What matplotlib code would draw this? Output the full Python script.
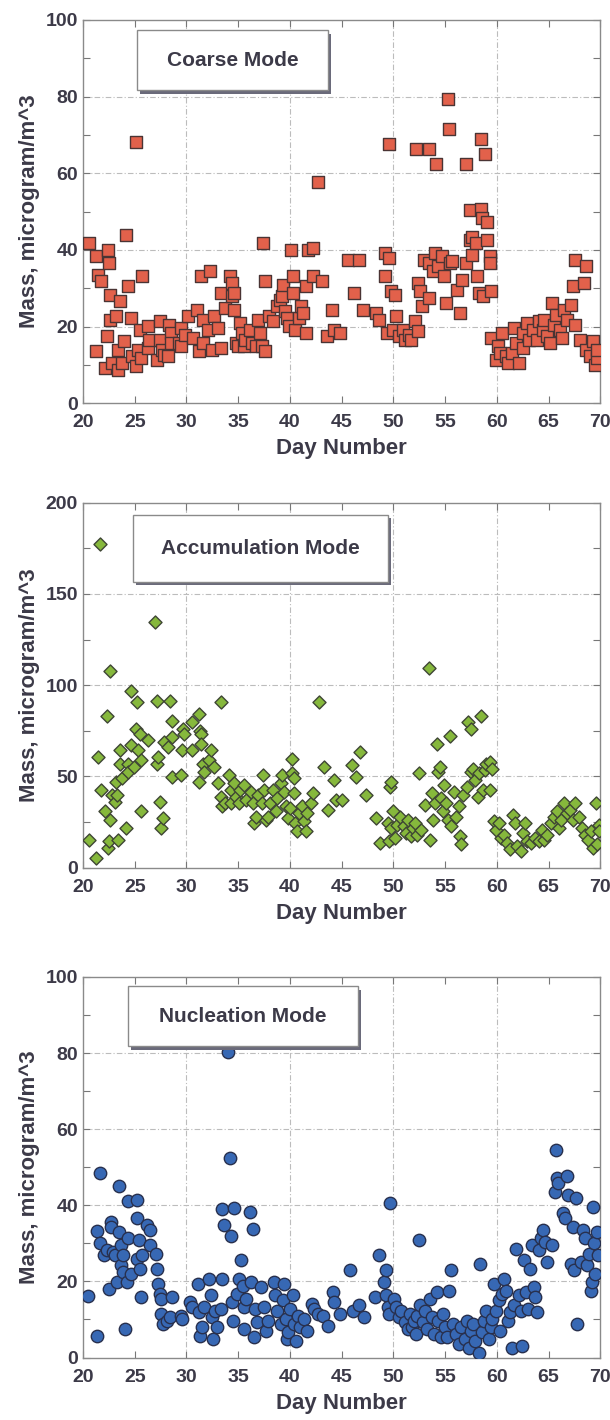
import numpy as np
import matplotlib
matplotlib.use('Agg')
import matplotlib.pyplot as plt
from matplotlib.patches import Rectangle

plt.rcParams['font.family'] = ['Liberation Sans', 'DejaVu Sans']
plt.rcParams['font.weight'] = 'bold'

TEXT = '#3c3a48'

# --- Coarse mode (day, mass) ---
coarse_day = [20.6, 21.3, 21.5, 21.7, 21.3, 22.1, 22.3, 22.4, 22.5, 22.6, 22.6, 22.8, 23.2, 23.4, 23.4,
              23.6, 23.8, 24.0, 24.2, 24.4, 24.6, 24.7, 25.1, 25.1, 25.3, 25.5, 25.6, 25.7, 26.3, 26.3,
              26.4, 27.2, 27.4, 27.4, 27.6, 27.8, 28.2, 28.3, 28.5, 28.5, 29.3, 29.5, 29.5, 29.9, 30.2,
              30.6, 31.0, 31.2, 31.4, 31.6, 31.6, 32.1, 32.3, 32.5, 32.7, 33.1, 33.3, 33.3, 33.7, 34.2,
              34.4, 34.4, 34.6, 34.6, 34.8, 35.0, 35.2, 35.4, 35.6, 35.7, 36.1, 36.3, 36.7, 36.9, 37.1,
              37.3, 37.4, 37.6, 37.6, 38.0, 38.4, 38.8, 39.0, 39.2, 39.3, 39.5, 39.7, 39.9, 40.1, 40.3,
              40.3, 40.5, 40.9, 41.1, 41.3, 41.6, 41.6, 41.8, 42.2, 42.2, 42.7, 43.1, 43.6, 44.1, 44.3,
              44.8, 45.6, 46.2, 46.7, 47.1, 48.3, 48.6, 49.2, 49.2, 49.4, 49.6, 49.6, 49.8, 50.0, 50.2,
              50.3, 50.5, 50.9, 51.1, 51.5, 51.7, 52.1, 52.2, 52.4, 52.4, 52.6, 52.8, 53.0, 53.4, 53.4,
              53.4, 53.8, 54.0, 54.1, 54.3, 54.7, 54.9, 55.1, 55.3, 55.4, 55.5, 55.7, 56.2, 56.4, 56.6,
              57.0, 57.0, 57.4, 57.4, 57.6, 57.6, 58.0, 58.1, 58.3, 58.5, 58.5, 58.6, 58.7, 58.9, 59.1,
              59.1, 59.3, 59.3, 59.4, 59.4, 59.9, 60.1, 60.3, 60.5, 60.9, 61.1, 61.5, 61.7, 61.9, 62.1,
              62.5, 62.5, 62.9, 63.1, 63.5, 63.9, 64.1, 64.5, 64.6, 64.9, 65.1, 65.3, 65.5, 65.7, 66.1,
              66.3, 66.5, 66.8, 67.2, 67.4, 67.6, 67.6, 68.0, 68.4, 68.6, 68.6, 69.0, 69.3, 69.5, 69.7,
              69.7]
coarse_mass = [41.7, 38.3, 33.5, 31.8, 13.6, 9.3, 17.5, 40.0, 36.5, 28.3, 21.8, 10.6, 22.7, 14.0, 8.8,
               26.6, 10.6, 16.2, 43.9, 30.5, 22.3, 12.3, 68.1, 9.7, 14.0, 19.2, 11.9, 33.1, 20.1, 14.5,
               16.6, 11.4, 21.4, 16.6, 14.0, 12.7, 12.3, 20.5, 18.4, 15.8, 15.8, 19.7, 14.9, 17.9, 22.7,
               17.1, 24.4, 13.6, 33.1, 21.8, 15.8, 19.2, 34.4, 14.0, 22.7, 19.7, 28.7, 14.5, 24.8, 33.1,
               31.3, 27.9, 28.7, 24.4, 15.8, 14.9, 20.9, 18.4, 14.9, 16.6, 19.2, 15.8, 14.9, 21.8, 18.4,
               14.9, 41.7, 31.8, 13.6, 22.7, 21.4, 25.3, 27.0, 27.9, 30.9, 24.0, 22.3, 20.1, 40.0, 28.7,
               33.1, 19.2, 22.3, 25.3, 23.5, 18.4, 30.5, 40.0, 40.4, 33.1, 57.7, 31.8, 17.5, 24.4, 19.2,
               18.4, 37.4, 28.7, 37.4, 24.4, 23.5, 21.8, 39.1, 33.1, 18.4, 67.7, 37.8, 29.2, 19.2, 28.3,
               22.7, 17.5, 19.2, 16.6, 17.9, 16.6, 21.4, 66.4, 31.3, 18.8, 29.2, 25.3, 37.4, 66.4, 36.5,
               27.4, 34.4, 39.1, 62.5, 35.7, 38.3, 33.1, 26.1, 79.4, 71.6, 36.5, 37.0, 29.6, 23.5, 32.2,
               62.5, 36.5, 50.4, 42.6, 38.7, 43.5, 41.7, 33.1, 28.7, 69.0, 50.8, 48.2, 27.9, 65.1, 47.4,
               42.6, 38.3, 36.5, 29.2, 17.1, 11.4, 14.9, 13.2, 18.4, 12.3, 10.6, 13.2, 19.7, 15.8, 10.6,
               14.5, 18.4, 21.0, 16.6, 19.2, 16.6, 21.4, 19.2, 21.8, 17.5, 15.8, 26.1, 20.5, 23.1, 19.2,
               17.1, 24.4, 21.8, 25.7, 30.5, 37.4, 20.5, 16.6, 31.3, 35.7, 14.0, 12.3, 16.2, 10.1, 11.9,
               14.0]

# --- Accumulation mode ---
accum_day = [20.6, 21.3, 21.5, 21.6, 21.7, 22.1, 22.3, 22.4, 22.5, 22.6, 22.6, 22.8, 23.1, 23.2, 23.3,
             23.4, 23.6, 23.6, 23.8, 24.2, 24.4, 24.4, 24.6, 24.6, 24.9, 25.1, 25.2, 25.3, 25.5, 25.6,
             25.6, 26.3, 27.0, 27.2, 27.2, 27.3, 27.4, 27.5, 27.7, 27.8, 28.2, 28.4, 28.6, 28.6, 28.6,
             29.5, 29.6, 29.7, 29.8, 30.5, 30.5, 31.2, 31.2, 31.3, 31.4, 31.4, 31.6, 31.7, 32.2, 32.4,
             32.7, 33.1, 33.3, 33.3, 33.4, 33.7, 34.1, 34.3, 34.3, 34.6, 34.8, 35.1, 35.2, 35.6, 35.8,
             36.2, 36.4, 36.5, 36.7, 36.9, 37.3, 37.4, 37.5, 37.7, 37.9, 38.1, 38.4, 38.7, 38.8, 39.1,
             39.2, 39.4, 39.6, 39.8, 40.0, 40.2, 40.2, 40.4, 40.4, 40.5, 40.7, 40.9, 41.2, 41.4, 41.6,
             41.7, 42.0, 42.2, 42.8, 43.3, 43.7, 44.3, 44.5, 45.0, 46.0, 46.4, 46.8, 47.4, 48.3, 48.7,
             49.5, 49.7, 49.8, 49.6, 49.8, 50.0, 50.2, 50.4, 50.6, 51.0, 51.2, 51.4, 51.7, 51.9, 52.1,
             52.3, 52.5, 52.7, 53.1, 53.4, 53.5, 53.7, 53.8, 54.0, 54.2, 54.3, 54.5, 54.6, 54.8, 54.9,
             55.1, 55.3, 55.5, 55.6, 55.9, 56.1, 56.3, 56.4, 56.5, 56.7, 57.1, 57.2, 57.5, 57.5, 57.7,
             57.9, 58.2, 58.3, 58.5, 58.7, 58.9, 59.0, 59.3, 59.3, 59.5, 59.7, 59.9, 60.2, 60.4, 60.7,
             61.0, 61.3, 61.6, 61.8, 62.0, 62.3, 62.5, 62.7, 62.9, 63.3, 63.7, 64.1, 64.4, 64.6, 64.9,
             65.2, 65.5, 65.8, 66.0, 66.2, 66.5, 66.8, 67.1, 67.4, 67.6, 67.9, 68.2, 68.5, 68.8, 69.1,
             69.3, 69.6, 69.7, 69.9, 69.9]
accum_mass = [15.4, 5.4, 60.6, 177.4, 42.5, 30.8, 83.3, 10.9, 14.5, 107.7, 26.2, 39.8, 36.2, 47.1, 39.8,
              15.4, 64.3, 57.0, 48.9, 21.7, 57.0, 52.5, 96.8, 67.0, 55.2, 76.0, 90.5, 64.3, 73.3, 58.8,
              30.8, 69.7, 134.8, 91.4, 57.0, 60.6, 36.2, 21.7, 27.1, 68.8, 66.1, 91.4, 71.5, 49.8, 80.5,
              50.7, 64.3, 76.0, 73.3, 79.6, 64.3, 84.2, 47.1, 75.1, 73.3, 67.9, 57.0, 52.5, 58.8, 64.3,
              55.2, 46.2, 90.5, 38.9, 33.5, 35.3, 50.7, 42.5, 35.3, 46.2, 38.9, 35.3, 42.5, 45.2, 37.1,
              41.6, 35.3, 24.4, 28.0, 39.8, 35.3, 50.7, 42.5, 26.2, 28.0, 35.3, 42.5, 30.8, 38.0, 46.2,
              50.7, 41.6, 33.5, 27.1, 32.6, 59.7, 51.6, 40.7, 48.9, 24.4, 19.9, 29.9, 33.5, 25.3, 19.9,
              29.9, 35.3, 40.7, 90.5, 55.2, 31.7, 48.0, 37.1, 37.1, 56.1, 49.8, 63.3, 39.8, 27.1, 13.6,
              24.4, 44.3, 47.1, 14.5, 21.7, 30.8, 16.3, 23.5, 28.0, 22.6, 19.0, 26.2, 17.2, 21.7, 24.4,
              18.1, 51.6, 20.8, 34.4, 109.5, 15.4, 40.7, 26.2, 35.3, 67.9, 52.5, 55.2, 38.0, 30.8, 45.2,
              35.3, 26.2, 72.4, 22.6, 41.6, 28.0, 33.5, 17.2, 12.7, 39.8, 44.3, 79.6, 76.0, 52.5, 54.3,
              48.0, 38.9, 51.6, 83.3, 42.5, 53.4, 57.0, 42.5, 57.9, 54.3, 25.3, 20.8, 24.4, 16.3, 18.1,
              13.6, 10.0, 29.0, 24.4, 11.8, 9.0, 19.0, 24.4, 14.5, 13.6, 16.3, 14.5, 20.8, 15.4, 18.1,
              24.4, 28.0, 30.8, 21.7, 26.2, 35.3, 29.9, 31.7, 26.2, 35.3, 28.0, 21.7, 18.1, 15.4, 19.9,
              10.9, 35.3, 12.7, 23.5, 19.9]

# --- Nucleation mode ---
nucl_day = [20.5, 21.4, 21.4, 21.6, 21.6, 22.0, 22.3, 22.5, 22.7, 22.7, 22.9, 23.1, 23.3, 23.5, 23.5,
            23.7, 23.7, 23.9, 23.9, 24.1, 24.3, 24.4, 24.4, 24.6, 25.2, 25.2, 25.2, 25.4, 25.5, 25.6,
            25.7, 26.2, 26.5, 26.5, 27.1, 27.2, 27.3, 27.4, 27.5, 27.5, 27.7, 28.1, 28.4, 28.6, 29.5,
            29.6, 30.3, 30.5, 31.1, 31.2, 31.3, 31.5, 31.7, 32.2, 32.4, 32.5, 32.6, 32.8, 33.0, 33.3,
            33.4, 33.4, 33.6, 34.0, 34.2, 34.3, 34.4, 34.5, 34.6, 34.9, 35.1, 35.3, 35.5, 35.6, 35.6,
            35.8, 36.1, 36.2, 36.4, 36.5, 36.6, 36.8, 37.2, 37.5, 37.7, 37.9, 38.5, 38.6, 38.8, 39.1,
            39.3, 39.4, 39.6, 39.7, 39.8, 40.0, 40.3, 40.4, 40.6, 40.8, 41.0, 41.4, 41.7, 42.1, 42.3,
            42.7, 43.2, 43.7, 44.2, 44.3, 44.8, 45.8, 46.1, 46.7, 47.2, 48.2, 48.6, 49.1, 49.3, 49.3,
            49.5, 49.6, 49.7, 50.1, 50.3, 50.5, 50.7, 51.1, 51.4, 51.6, 51.8, 52.0, 52.2, 52.3, 52.5,
            52.6, 52.9, 53.1, 53.3, 53.5, 53.7, 53.9, 54.2, 54.3, 54.6, 54.8, 55.0, 55.2, 55.4, 55.6,
            55.8, 56.1, 56.3, 56.5, 56.9, 57.1, 57.3, 57.5, 57.7, 57.9, 58.3, 58.4, 58.6, 58.8, 59.0,
            59.2, 59.4, 59.5, 59.7, 59.9, 60.2, 60.3, 60.5, 60.7, 60.9, 61.1, 61.3, 61.5, 61.7, 61.9,
            62.1, 62.3, 62.4, 62.6, 62.8, 63.0, 63.2, 63.4, 63.6, 63.7, 63.9, 64.1, 64.3, 64.5, 64.7,
            64.9, 65.3, 65.6, 65.7, 65.8, 65.9, 66.4, 66.6, 66.8, 66.9, 67.2, 67.4, 67.5, 67.7, 67.8,
            68.1, 68.3, 68.5, 68.7, 68.9, 69.1, 69.2, 69.3, 69.4, 69.5, 69.7, 69.8]
nucl_mass = [16.1, 5.7, 33.3, 48.6, 30.0, 26.9, 28.2, 18.1, 35.7, 34.4, 27.8, 26.9, 19.8, 45.1, 33.0,
             29.5, 24.2, 26.9, 22.5, 7.5, 19.8, 41.0, 31.3, 22.0, 41.4, 26.0, 36.6, 30.8, 23.3, 15.9,
             26.9, 34.8, 33.5, 29.5, 27.3, 23.3, 19.4, 16.7, 15.4, 11.5, 8.8, 9.7, 10.6, 15.9, 11.0,
             10.1, 14.5, 13.2, 19.4, 11.9, 5.7, 7.9, 13.2, 20.7, 16.3, 10.6, 4.8, 12.3, 7.9, 12.8,
             38.9, 20.7, 34.8, 80.4, 52.4, 31.9, 14.5, 9.7, 39.2, 16.7, 20.7, 25.6, 18.9, 13.2, 7.5,
             15.4, 38.3, 19.8, 33.9, 5.3, 12.8, 9.3, 18.5, 13.2, 7.0, 9.7, 19.8, 16.3, 12.3, 8.8,
             15.0, 19.4, 10.1, 4.8, 6.6, 12.8, 16.3, 8.8, 4.4, 11.0, 7.9, 10.1, 7.0, 14.1, 12.8,
             11.5, 11.0, 8.4, 17.2, 14.5, 11.5, 22.9, 12.3, 13.7, 10.6, 15.9, 26.9, 19.8, 22.9, 16.3,
             13.2, 11.5, 40.7, 15.4, 13.2, 10.6, 12.3, 9.3, 7.5, 11.5, 7.9, 9.7, 6.2, 11.0, 30.8,
             13.7, 9.3, 12.3, 7.5, 15.4, 10.6, 6.2, 17.2, 9.7, 5.3, 11.5, 7.9, 5.3, 17.6, 22.9,
             8.8, 6.2, 3.5, 7.9, 4.8, 9.7, 2.6, 7.0, 8.8, 4.4, 1.3, 24.7, 6.6, 9.7, 12.3,
             4.8, 7.9, 10.1, 19.4, 12.3, 15.0, 7.0, 16.7, 20.7, 17.6, 9.7, 11.9, 2.6, 13.7, 28.6,
             16.3, 12.3, 3.1, 25.6, 17.2, 12.8, 23.3, 29.5, 18.5, 15.9, 11.9, 28.2, 31.3, 33.5, 30.4,
             25.1, 29.5, 43.6, 54.6, 47.1, 45.8, 37.9, 36.6, 47.6, 42.7, 24.7, 34.4, 22.9, 41.9, 8.8,
             25.1, 33.5, 31.3, 24.2, 27.3, 17.6, 19.8, 39.6, 30.0, 22.0, 33.0, 26.9]

panels = [
    dict(day=coarse_day, mass=coarse_mass, title='Coarse Mode', ymax=100, ystep=20, yminor=10,
         marker='s', s=82, face='#e2614b', edge='#4a3434',
         rect=[0.136, 0.716, 0.848, 0.270], box=[0.104, 0.816, 0.370, 0.157]),
    dict(day=accum_day, mass=accum_mass, title='Accumulation Mode', ymax=200, ystep=50, yminor=25,
         marker='D', s=44, face='#86b83c', edge='#3f4634',
         rect=[0.136, 0.389, 0.848, 0.257], box=[0.096, 0.783, 0.494, 0.183]),
    dict(day=nucl_day, mass=nucl_mass, title='Nucleation Mode', ymax=100, ystep=20, yminor=10,
         marker='o', s=80, face='#3768b4', edge='#28304e',
         rect=[0.136, 0.044, 0.848, 0.268], box=[0.087, 0.818, 0.445, 0.157]),
]

fig = plt.figure(figsize=(6.1, 14.2), dpi=100)

for p in panels:
    ax = fig.add_axes(p['rect'])
    ax.scatter(p['day'], p['mass'], marker=p['marker'], s=p['s'], facecolor=p['face'],
               edgecolor=p['edge'], linewidth=1.0, zorder=3)
    ax.set_xlim(20, 70)
    ax.set_ylim(0, p['ymax'])
    ax.set_xticks(range(20, 71, 5))
    ax.set_yticks(range(0, p['ymax'] + 1, p['ystep']))
    ax.set_yticks(np.arange(0, p['ymax'] + 1, p['yminor']), minor=True)
    ax.tick_params(which='both', direction='in', top=True, right=True, color='#777777',
                   labelsize=14, labelcolor=TEXT, length=5, width=0.8)
    ax.tick_params(axis='x', pad=8)
    for lab in ax.get_xticklabels() + ax.get_yticklabels():
        lab.set_fontweight('bold')
    # grid every 10 days and every labelled y value
    for gx in range(30, 70, 10):
        ax.axvline(gx, color='#bcbcbc', lw=0.8, ls=(0, (5, 2, 1, 2)), zorder=1)
    for gy in range(p['ystep'], p['ymax'], p['ystep']):
        ax.axhline(gy, color='#bcbcbc', lw=0.8, ls=(0, (5, 2, 1, 2)), zorder=1)
    for sp in ax.spines.values():
        sp.set_color('#8a8a8a')
        sp.set_linewidth(1.0)
    ax.set_xlabel('Day Number', fontsize=16, fontweight='bold', color=TEXT, labelpad=5)
    ax.set_ylabel('Mass, microgram/m^3', fontsize=16, fontweight='bold', color=TEXT, labelpad=4)

    # title box with shadow
    bx, by, bw, bh = p['box']
    ax.add_patch(Rectangle((bx + 0.006, by - 0.009), bw, bh, transform=ax.transAxes,
                           facecolor='#6a6a7a', edgecolor='none', zorder=4))
    ax.add_patch(Rectangle((bx, by), bw, bh, transform=ax.transAxes,
                           facecolor='white', edgecolor='#8a8a8a', lw=1.0, zorder=5))
    ax.text(bx + bw / 2, by + bh / 2, p['title'], transform=ax.transAxes, ha='center', va='center',
            fontsize=15, fontweight='bold', color=TEXT, zorder=6)

fig.savefig('out.png', dpi=100, facecolor='white')
